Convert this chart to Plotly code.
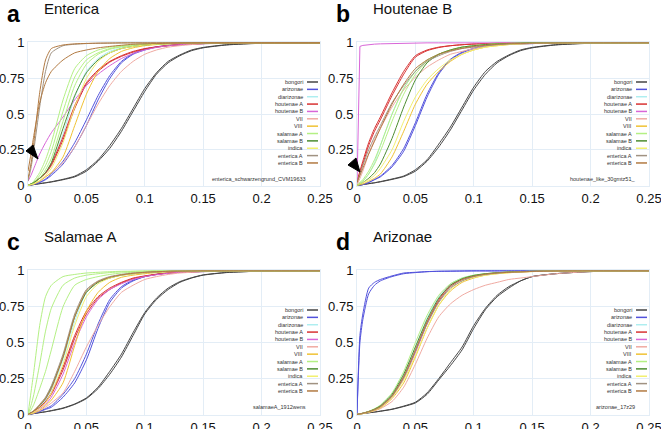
import plotly.graph_objects as go

# ---------------- data ----------------
X = [0, 0.0025, 0.005, 0.01, 0.015, 0.02, 0.03, 0.04, 0.05, 0.06, 0.07, 0.08,
     0.09, 0.10, 0.11, 0.12, 0.13, 0.14, 0.15, 0.17, 0.20, 0.25]

SERIES = ["bongori", "arizonae", "diarizonae", "houtenae A", "houtenae B", "VII",
          "VIII", "salamae A", "salamae B", "indica", "enterica A", "enterica B"]
COLORS = ["#444444", "#5252dc", "#aeeef0", "#d83232", "#d866d8", "#f0aaa2",
          "#f0c234", "#b4f084", "#4c8c30", "#f2f070", "#a09282", "#b27a42"]

Y_TICKS = [0, 0.25, 0.5, 0.75, 1]
Y_TICK_LABELS = ["0", "0.25", "0.5", "0.75", "1"]
X_TICKS = [0, 0.05, 0.1, 0.15, 0.2, 0.25]
X_TICK_LABELS = ["0", "0.05", "0.1", "0.15", "0.2", "0.25"]

PANEL_LETTERS = ["a", "b", "c", "d"]
PANEL_TITLES = ["Enterica", "Houtenae B", "Salamae A", "Arizonae"]
SAMPLE_NAMES = ["enterica_schwarzengrund_CVM19633", "houtenae_like_30gmtz51_",
                "salamaeA_1912wens", "arizonae_17z29"]

# Panel a (Enterica)
A_BONGORI = [[0, .003, .006, .012, .018, .024, .04, .06, .10, .17, .26, .38, .52, .66, .78, .86, .91, .945, .965, .985, .997, 1],
             [0, .003, .006, .013, .019, .026, .043, .065, .11, .18, .28, .40, .54, .68, .79, .87, .915, .95, .968, .987, .998, 1]]
A_ARIZONAE = [[0, .004, .008, .02, .04, .07, .15, .27, .42, .60, .75, .86, .92, .95, .97, .98, .987, .99, .994, .998, 1, 1],
              [0, .004, .009, .022, .045, .08, .17, .30, .46, .63, .77, .87, .925, .955, .972, .982, .988, .991, .995, .998, 1, 1]]
A_DIARIZONAE = [[0, .01, .02, .05, .09, .15, .36, .62, .80, .89, .94, .965, .98, .988, .993, .996, .998, .999, 1, 1, 1, 1]]
A_HOUTENAE_A = [[0, .01, .02, .05, .09, .15, .34, .56, .72, .81, .87, .91, .94, .96, .972, .982, .988, .992, .995, .998, 1, 1],
                [0, .01, .02, .05, .085, .14, .32, .54, .71, .80, .865, .905, .935, .957, .97, .98, .987, .991, .995, .998, 1, 1]]
A_HOUTENAE_B = [[.03, .07, .12, .22, .30, .37, .48, .60, .70, .78, .84, .89, .925, .95, .968, .98, .987, .992, .995, .998, 1, 1]]
A_VII = [[0, .005, .01, .03, .06, .09, .16, .27, .42, .57, .70, .80, .87, .92, .95, .97, .98, .988, .993, .997, 1, 1]]
A_VIII = [[0, .005, .01, .03, .06, .09, .20, .42, .64, .80, .89, .94, .965, .98, .988, .993, .996, .998, 1, 1, 1, 1]]
A_SALAMAE_A = [[0, .01, .03, .09, .18, .30, .60, .82, .91, .95, .97, .98, .988, .993, .996, .998, 1, 1, 1, 1, 1, 1],
               [0, .01, .02, .07, .14, .24, .52, .76, .88, .93, .96, .975, .985, .99, .994, .997, .999, 1, 1, 1, 1, 1],
               [0, .008, .016, .05, .11, .19, .45, .70, .85, .92, .955, .972, .983, .99, .994, .997, .999, 1, 1, 1, 1, 1]]
A_SALAMAE_B = [[0, .01, .02, .05, .09, .16, .40, .63, .79, .88, .93, .96, .975, .985, .99, .994, .997, .998, 1, 1, 1, 1]]
A_INDICA = [[0, .006, .012, .035, .07, .12, .30, .55, .75, .87, .93, .96, .975, .985, .99, .994, .997, .998, 1, 1, 1, 1]]
A_ENTERICA_A = [[.03, .12, .25, .55, .80, .93, .98, .99, .995, .997, .998, .999, 1, 1, 1, 1, 1, 1, 1, 1, 1, 1]]
A_ENTERICA_B = [[.05, .15, .30, .65, .88, .96, .985, .993, .996, .998, .999, 1, 1, 1, 1, 1, 1, 1, 1, 1, 1, 1],
                [.10, .22, .35, .58, .72, .80, .88, .93, .95, .965, .975, .983, .99, .993, .995, .997, .998, .999, 1, 1, 1, 1]]

# Panel b (Houtenae B)
B_BONGORI = [[0, .003, .006, .012, .018, .025, .042, .062, .10, .17, .27, .39, .53, .67, .78, .86, .91, .945, .965, .985, .997, 1],
             [0, .003, .006, .013, .019, .027, .045, .066, .11, .18, .29, .41, .55, .69, .80, .87, .915, .95, .968, .987, .998, 1]]
B_ARIZONAE = [[0, .003, .006, .02, .04, .06, .13, .24, .42, .62, .78, .88, .93, .96, .975, .985, .99, .993, .995, .998, 1, 1],
              [0, .003, .006, .021, .042, .065, .14, .26, .44, .64, .79, .885, .935, .962, .976, .985, .99, .993, .995, .998, 1, 1]]
B_DIARIZONAE = [[0, .01, .03, .08, .16, .28, .50, .68, .80, .88, .92, .95, .97, .98, .988, .993, .996, .998, 1, 1, 1, 1]]
B_HOUTENAE_A = [[.03, .10, .17, .30, .40, .48, .65, .80, .91, .95, .97, .98, .987, .992, .995, .997, .998, .999, 1, 1, 1, 1],
                [.03, .09, .15, .28, .38, .46, .63, .78, .90, .945, .967, .98, .987, .992, .995, .997, .998, .999, 1, 1, 1, 1]]
B_HOUTENAE_B = [[0, .975, .982, .988, .991, .993, .996, .998, .999, 1, 1, 1, 1, 1, 1, 1, 1, 1, 1, 1, 1, 1]]
B_VII = [[0, .05, .10, .22, .32, .40, .55, .67, .76, .83, .88, .92, .94, .96, .975, .985, .99, .993, .995, .998, 1, 1]]
B_VIII = [[0, .005, .01, .03, .05, .08, .20, .38, .57, .71, .80, .87, .92, .95, .97, .98, .988, .993, .996, .998, 1, 1]]
B_SALAMAE_A = [[0, .02, .04, .10, .18, .28, .50, .68, .80, .88, .92, .95, .97, .98, .988, .993, .996, .998, 1, 1, 1, 1],
               [0, .02, .03, .08, .15, .24, .45, .64, .78, .87, .92, .95, .97, .98, .988, .993, .996, .998, 1, 1, 1, 1]]
B_SALAMAE_B = [[0, .01, .02, .05, .09, .15, .33, .55, .74, .86, .92, .95, .97, .98, .988, .993, .996, .998, 1, 1, 1, 1]]
B_INDICA = [[0, .01, .02, .04, .07, .12, .25, .45, .62, .74, .82, .88, .92, .95, .97, .98, .988, .993, .996, .998, 1, 1]]
B_ENTERICA_A = [[.02, .08, .14, .25, .34, .42, .58, .70, .80, .87, .91, .94, .96, .97, .98, .987, .992, .995, .997, .999, 1, 1]]
B_ENTERICA_B = [[.02, .07, .12, .22, .31, .40, .57, .71, .82, .88, .92, .945, .962, .975, .983, .99, .994, .996, .998, .999, 1, 1]]

# Panel c (Salamae A)
C_BONGORI = [[0, .003, .006, .012, .018, .025, .042, .07, .11, .18, .28, .40, .55, .70, .80, .87, .92, .95, .97, .988, .998, 1],
             [0, .003, .006, .013, .019, .027, .045, .073, .115, .19, .30, .42, .57, .71, .81, .88, .925, .952, .972, .989, .998, 1]]
C_ARIZONAE = [[0, .004, .008, .02, .035, .05, .12, .22, .38, .60, .78, .88, .93, .96, .975, .985, .99, .993, .995, .998, 1, 1],
              [0, .004, .008, .022, .04, .06, .14, .25, .42, .63, .80, .89, .935, .96, .975, .985, .99, .993, .995, .998, 1, 1]]
C_DIARIZONAE = [[0, .01, .02, .05, .10, .17, .38, .65, .85, .92, .955, .97, .98, .988, .993, .996, .998, .999, 1, 1, 1, 1]]
C_HOUTENAE_A = [[0, .01, .02, .05, .09, .15, .33, .55, .72, .82, .88, .92, .95, .965, .977, .985, .99, .993, .996, .998, 1, 1],
                [0, .01, .02, .048, .085, .14, .31, .53, .70, .81, .87, .915, .945, .962, .975, .984, .99, .993, .996, .998, 1, 1]]
C_HOUTENAE_B = [[0, .008, .015, .04, .07, .12, .28, .50, .68, .80, .87, .91, .94, .96, .973, .983, .99, .993, .996, .998, 1, 1]]
C_VII = [[0, .005, .01, .025, .05, .08, .15, .30, .47, .62, .75, .85, .90, .94, .96, .975, .985, .99, .994, .998, 1, 1]]
C_VIII = [[0, .005, .01, .03, .06, .10, .22, .48, .72, .85, .92, .955, .97, .98, .988, .993, .996, .998, 1, 1, 1, 1]]
C_SALAMAE_A = [[0, .15, .30, .62, .82, .90, .96, .975, .985, .99, .994, .997, .998, .999, 1, 1, 1, 1, 1, 1, 1, 1],
               [0, .06, .14, .35, .58, .74, .90, .95, .97, .98, .988, .993, .996, .998, 1, 1, 1, 1, 1, 1, 1, 1],
               [0, .03, .07, .18, .30, .45, .75, .90, .94, .96, .975, .985, .99, .994, .997, .998, 1, 1, 1, 1, 1, 1]]
C_SALAMAE_B = [[0, .01, .025, .06, .11, .19, .40, .68, .85, .92, .95, .97, .98, .988, .993, .996, .998, .999, 1, 1, 1, 1]]
C_INDICA = [[0, .008, .016, .045, .08, .15, .35, .62, .82, .91, .95, .97, .98, .988, .993, .996, .998, .999, 1, 1, 1, 1]]
C_ENTERICA_A = [[0, .012, .025, .07, .12, .20, .42, .70, .87, .93, .96, .975, .985, .99, .994, .997, .998, .999, 1, 1, 1, 1]]
C_ENTERICA_B = [[0, .012, .025, .065, .11, .18, .40, .68, .86, .925, .955, .972, .983, .99, .994, .997, .998, .999, 1, 1, 1, 1]]

# Panel d (Arizonae)
D_BONGORI = [[0, .003, .006, .011, .016, .022, .035, .055, .08, .14, .24, .34, .45, .60, .73, .82, .88, .93, .96, .98, .995, 1],
             [0, .003, .006, .012, .017, .023, .037, .058, .085, .15, .25, .36, .47, .62, .74, .83, .89, .93, .96, .98, .995, 1]]
D_ARIZONAE = [[0, .55, .70, .88, .92, .94, .965, .985, .99, .995, .997, .998, .999, 1, 1, 1, 1, 1, 1, 1, 1, 1],
              [0, .50, .66, .84, .90, .93, .96, .98, .988, .994, .997, .998, .999, 1, 1, 1, 1, 1, 1, 1, 1, 1]]
D_DIARIZONAE = [[0, .004, .008, .02, .035, .06, .14, .28, .47, .67, .82, .91, .95, .97, .98, .987, .992, .995, .997, .999, 1, 1]]
D_HOUTENAE_A = [[0, .004, .008, .02, .035, .055, .13, .26, .44, .64, .80, .90, .94, .965, .978, .986, .991, .994, .996, .999, 1, 1]]
D_HOUTENAE_B = [[0, .004, .008, .018, .03, .05, .12, .25, .43, .63, .79, .89, .94, .962, .976, .985, .99, .993, .996, .999, 1, 1]]
D_VII = [[0, .003, .006, .015, .025, .04, .09, .19, .35, .53, .68, .77, .83, .87, .90, .92, .94, .95, .96, .98, .995, 1]]
D_VIII = [[0, .003, .006, .015, .028, .045, .11, .22, .40, .60, .76, .86, .92, .95, .97, .98, .987, .992, .995, .998, 1, 1]]
D_SALAMAE_A = [[0, .005, .01, .022, .04, .065, .15, .30, .50, .69, .83, .91, .95, .97, .98, .987, .992, .995, .997, .999, 1, 1]]
D_SALAMAE_B = [[0, .004, .008, .02, .037, .06, .14, .28, .47, .66, .81, .90, .945, .968, .98, .987, .992, .995, .997, .999, 1, 1]]
D_INDICA = [[0, .003, .006, .016, .03, .05, .12, .24, .41, .60, .76, .87, .93, .955, .97, .98, .987, .992, .995, .998, 1, 1]]
D_ENTERICA_A = [[0, .004, .008, .018, .032, .052, .125, .255, .44, .63, .78, .88, .93, .96, .975, .984, .99, .993, .996, .999, 1, 1]]
D_ENTERICA_B = [[0, .004, .008, .019, .034, .055, .13, .265, .45, .645, .79, .89, .94, .963, .977, .985, .99, .993, .996, .999, 1, 1]]

PANEL_DATA = [
    [A_BONGORI, A_ARIZONAE, A_DIARIZONAE, A_HOUTENAE_A, A_HOUTENAE_B, A_VII, A_VIII,
     A_SALAMAE_A, A_SALAMAE_B, A_INDICA, A_ENTERICA_A, A_ENTERICA_B],
    [B_BONGORI, B_ARIZONAE, B_DIARIZONAE, B_HOUTENAE_A, B_HOUTENAE_B, B_VII, B_VIII,
     B_SALAMAE_A, B_SALAMAE_B, B_INDICA, B_ENTERICA_A, B_ENTERICA_B],
    [C_BONGORI, C_ARIZONAE, C_DIARIZONAE, C_HOUTENAE_A, C_HOUTENAE_B, C_VII, C_VIII,
     C_SALAMAE_A, C_SALAMAE_B, C_INDICA, C_ENTERICA_A, C_ENTERICA_B],
    [D_BONGORI, D_ARIZONAE, D_DIARIZONAE, D_HOUTENAE_A, D_HOUTENAE_B, D_VII, D_VIII,
     D_SALAMAE_A, D_SALAMAE_B, D_INDICA, D_ENTERICA_A, D_ENTERICA_B],
]

# ---------------- layout helpers ----------------
W, H = 661, 429
FONT = "Liberation Sans, Arial, sans-serif"
GRID = "#e3edf6"


def px(x):
    return x / W


def py(y):
    return 1 - y / H


# (left, right, top, bottom) in pixels for each plot area
BOXES = [(28, 320, 42, 186), (357, 649, 42, 186), (28, 320, 270, 415), (357, 649, 270, 415)]

fig = go.Figure()
layout = dict(
    width=W, height=H, margin=dict(l=0, r=0, t=0, b=0, autoexpand=False),
    paper_bgcolor="white", plot_bgcolor="white", showlegend=False,
    font=dict(family=FONT, color="#111111"),
)
annotations = []
shapes = []

for p in range(4):
    l, r, t, b = BOXES[p]
    sfx = "" if p == 0 else str(p + 1)
    xa, ya = "x" + sfx, "y" + sfx
    layout["xaxis" + sfx] = dict(
        domain=[px(l), px(r)], range=[0, 0.25], anchor=ya, automargin=False,
        tickvals=X_TICKS, ticktext=X_TICK_LABELS, showgrid=True, gridcolor=GRID,
        gridwidth=1, zeroline=False, showline=True, linecolor=GRID, mirror=True,
        ticks="", ticklabeloverflow="allow",
        tickfont=dict(size=13, family=FONT, color="#111111"),
    )
    layout["yaxis" + sfx] = dict(
        domain=[py(b), py(t)], range=[-0.004, 1.006], anchor=xa, automargin=False,
        tickvals=Y_TICKS, ticktext=Y_TICK_LABELS, showgrid=True, gridcolor=GRID,
        gridwidth=1, zeroline=False, showline=True, linecolor=GRID, mirror=True,
        ticks="", ticklabeloverflow="allow",
        tickfont=dict(size=13, family=FONT, color="#111111"),
    )
    for si, reps in enumerate(PANEL_DATA[p]):
        for rep in reps:
            shape = "linear" if (p == 1 and si == 4) else "spline"
            fig.add_trace(go.Scatter(
                x=X, y=rep, mode="lines", xaxis=xa, yaxis=ya,
                line=dict(color=COLORS[si], width=1, shape=shape, smoothing=0.6),
                hoverinfo="skip", showlegend=False,
            ))
    # manual legend
    for si, name in enumerate(SERIES):
        yy = t + 40 + si * 7.36
        annotations.append(dict(
            x=px(l + 277), y=py(yy), xref="paper", yref="paper", text=name,
            showarrow=False, xanchor="right", yanchor="middle",
            font=dict(size=5.5, family=FONT, color="#333333"),
        ))
        shapes.append(dict(type="line", xref="paper", yref="paper",
                           x0=px(l + 279), x1=px(l + 290), y0=py(yy), y1=py(yy),
                           line=dict(color=COLORS[si], width=1.5)))
    annotations.append(dict(
        x=px(l + 280), y=py(t + 137), xref="paper", yref="paper", text=SAMPLE_NAMES[p],
        showarrow=False, xanchor="right", yanchor="middle",
        font=dict(size=5.5, family=FONT, color="#333333"),
    ))
    # panel letter + title
    annotations.append(dict(
        x=px(l - 23), y=py(t - 28), xref="paper", yref="paper", text="<b>%s</b>" % PANEL_LETTERS[p],
        showarrow=False, xanchor="left", yanchor="middle",
        font=dict(size=23, family=FONT, color="#000000"),
    ))
    annotations.append(dict(
        x=px(l + 14), y=py(t - 34), xref="paper", yref="paper", text=PANEL_TITLES[p],
        showarrow=False, xanchor="left", yanchor="middle",
        font=dict(size=15, family=FONT, color="#111111"),
    ))

# black arrowheads in panels a and b
for pts in [[(26, 151), (33, 145), (38, 159)], [(348, 165), (356, 158), (360, 172)]]:
    path = "M %f %f L %f %f L %f %f Z" % (px(pts[0][0]), py(pts[0][1]), px(pts[1][0]), py(pts[1][1]),
                                          px(pts[2][0]), py(pts[2][1]))
    shapes.append(dict(type="path", xref="paper", yref="paper", path=path,
                       fillcolor="black", line=dict(color="black", width=1)))

layout["annotations"] = annotations
layout["shapes"] = shapes
fig.update_layout(**layout)
fig.write_html("out.html", config={"displayModeBar": False},
               post_script="document.body.style.margin='0px';")
